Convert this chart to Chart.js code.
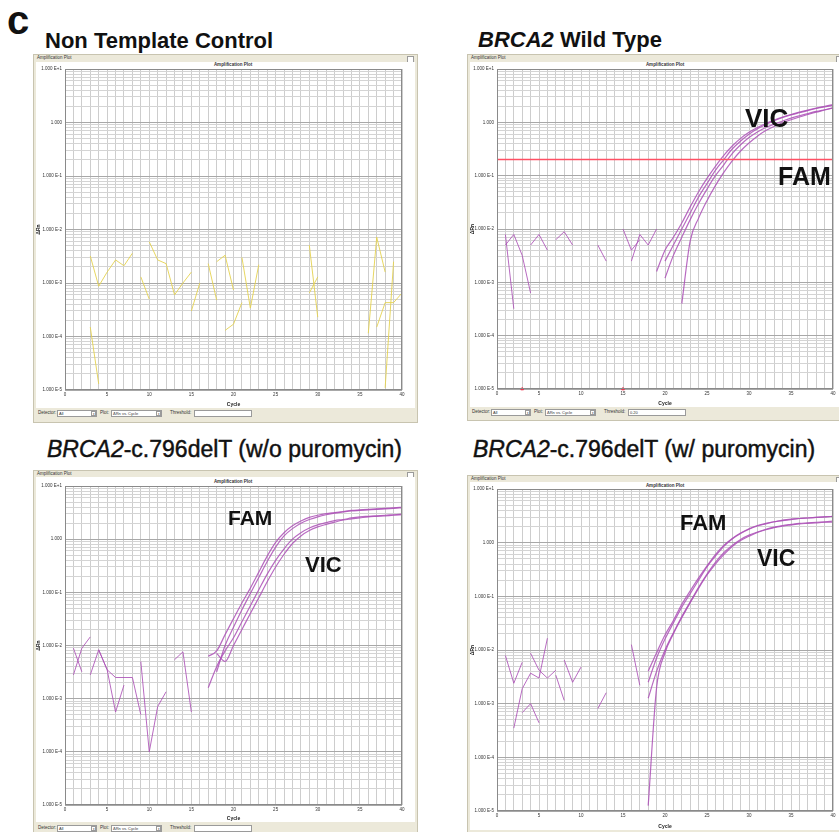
<!DOCTYPE html>
<html><head><meta charset="utf-8">
<script src="https://cdn.jsdelivr.net/npm/chart.js@4"></script>
<style>
html,body{margin:0;padding:0;background:#fff;}
#root{position:relative;width:839px;height:832px;overflow:hidden;background:#fff;font-family:'Liberation Sans',Arial,sans-serif;}
.abs{position:absolute;white-space:nowrap;line-height:1;color:#111;}
.win{position:absolute;background:#ECE9DA;border:1px solid #C8C4B0;box-sizing:border-box;}
.white{position:absolute;background:#fff;}
canvas{position:absolute;}
.tiny{position:absolute;font-size:4.5px;line-height:1;color:#333;white-space:nowrap;}
.box{position:absolute;background:#fff;border:1px solid #9a9a9a;box-sizing:border-box;height:7px;font-size:4px;line-height:5px;padding-left:1px;color:#333;}
.lbl{position:absolute;white-space:nowrap;line-height:1;font-weight:bold;color:#111;}
</style></head>
<body>
<div id="root">
  <div class="abs" style="left:7px;top:0px;font-size:40px;font-weight:bold;">c</div>
  <div class="abs" style="left:45px;top:30px;font-size:22px;font-weight:bold;">Non Template Control</div>
  <div class="abs" style="left:478px;top:29px;font-size:22px;font-weight:bold;"><i>BRCA2</i> Wild Type</div>
  <div class="abs" style="left:47px;top:438px;font-size:23px;-webkit-text-stroke:0.45px #111;"><i>BRCA2</i>-c.796delT (w/o puromycin)</div>
  <div class="abs" style="left:473px;top:438px;font-size:23px;-webkit-text-stroke:0.45px #111;"><i>BRCA2</i>-c.796delT (w/ puromycin)</div>
</div>
<script>
// ---------- axis definitions ----------
const cycleTicks = [0,1,2,3,4,5,6,7,8,9,10,11,12,13,14,15,16,17,18,19,20,21,22,23,24,25,26,27,28,29,30,31,32,33,34,35,36,37,38,39,40];
const cycleLabels = [0,5,10,15,20,25,30,35,40];
const decades = [1e-5,1e-4,1e-3,1e-2,1e-1,1,10];
const decadeLabels = ['1.000 E-5','1.000 E-4','1.000 E-3','1.000 E-2','1.000 E-1','1.000','1.000 E+1'];
const minorSteps = [2,3,4,5,6,7,8,9];

// ---------- Non Template Control (yellow traces, start cycle + dRn values) ----------
const ntcStarts = [3, 9, 10, 15, 17, 18, 19, 21, 29, 29, 36, 37, 38, 3];
const ntcA = [3.2e-3, 8.7e-4, 1.6e-3, 2.7e-3, 2.1e-3, 3.6e-3];
const ntcB = [1.3e-3, 5.0e-4];
const ntcC = [5.9e-3, 2.7e-3, 2.3e-3, 6.0e-4, 1.0e-3, 1.6e-3];
const ntcD = [3.0e-4, 1.0e-3];
const ntcE = [2.3e-3, 4.8e-4];
const ntcF = [2.5e-3, 3.3e-3, 7.4e-4];
const ntcG = [1.3e-4, 1.7e-4, 4.3e-4];
const ntcH = [3.0e-3, 3.4e-4, 2.2e-3];
const ntcI = [5.1e-3, 2.3e-4];
const ntcJ = [6.5e-4, 1.3e-3];
const ntcK = [1.15e-4, 7.2e-3, 1.6e-3];
const ntcL = [1.5e-4, 4.3e-4, 4.3e-4, 6.5e-4];
const ntcM = [1.1e-5, 2.5e-3];
const ntcN = [1.5e-4, 1.3e-5];

// ---------- BRCA2 Wild Type ----------
const wtNoiseStarts = [1, 1, 4, 7, 12, 15, 16];
const wtNoiseA = [7.9e-3, 3.2e-4];
const wtNoiseB = [5.0e-3, 7.9e-3, 3.2e-3, 6.3e-4];
const wtNoiseC = [5.0e-3, 7.9e-3, 4.0e-3];
const wtNoiseD = [6.3e-3, 8.9e-3, 5.0e-3];
const wtNoiseE = [5.0e-3, 2.5e-3];
const wtNoiseF = [1.0e-2, 4.0e-3, 6.3e-3];
const wtNoiseG = [2.5e-3, 7.9e-3, 5.0e-3, 1.0e-2];
const wtCurveStarts = [19, 20, 20, 22];
const wtVic1 = [1.6e-3,4.0e-3,7.0e-3,1.3e-2,2.6e-2,5.0e-2,8.9e-2,0.15,0.24,0.36,0.5,0.65,0.8,0.95,1.1,1.25,1.4,1.55,1.7,1.85,2.0,2.15];
const wtVic2 = [2.5e-3,5.0e-3,1.0e-2,2.0e-2,4.0e-2,7.1e-2,0.126,0.2,0.316,0.447,0.6,0.76,0.91,1.07,1.23,1.38,1.51,1.66,1.82,1.95,2.09];
const wtFam1 = [1.2e-3,3.2e-3,7.0e-3,1.5e-2,3.0e-2,5.6e-2,0.1,0.16,0.26,0.38,0.52,0.66,0.8,0.93,1.06,1.2,1.33,1.46,1.6,1.72,1.85];
const wtFam2 = [4.0e-4,6.0e-3,1.6e-2,3.4e-2,6.5e-2,0.115,0.19,0.29,0.41,0.55,0.7,0.84,0.98,1.12,1.26,1.4,1.55,1.7,1.88];
const wtThreshold = [0.2, 0.2];
const wtMarkerCycles = [3, 15];

// ---------- c.796delT without puromycin ----------
const noPuroNoiseStarts = [1, 1, 3, 4, 9, 13];
const noPuroNoiseA = [8.9e-3, 3.2e-3];
const noPuroNoiseB = [2.8e-3, 8.9e-3, 1.45e-2];
const noPuroNoiseC = [2.8e-3, 8.3e-3, 3.5e-3, 5.6e-4, 1.8e-3];
const noPuroNoiseD = [8.3e-3, 3.5e-3, 2.5e-3, 2.5e-3, 2.5e-3, 5.0e-4];
const noPuroNoiseE = [5.0e-3, 1.0e-4, 7.1e-4, 1.35e-3];
const noPuroNoiseF = [5.4e-3, 7.6e-3, 5.6e-4];
const noPuroCurveStarts = [17, 18, 17, 18];
const noPuroFam1 = [6.3e-3,7.9e-3,1.6e-2,3.2e-2,6.3e-2,0.12,0.24,0.48,0.87,1.32,1.78,2.19,2.57,2.82,3.02,3.16,3.31,3.47,3.55,3.63,3.72,3.8,3.89,3.98];
const noPuroFam2 = [3.2e-3,1.0e-2,2.2e-2,4.7e-2,9.5e-2,0.19,0.38,0.71,1.15,1.58,2.0,2.34,2.63,2.88,3.09,3.24,3.39,3.47,3.55,3.63,3.72,3.8,3.89];
const noPuroVic1 = [1.6e-3,4.0e-3,7.9e-3,1.4e-2,2.8e-2,5.6e-2,0.112,0.22,0.4,0.66,1.0,1.32,1.62,1.86,2.04,2.24,2.34,2.51,2.63,2.69,2.75,2.82,2.88,2.95];
const noPuroVic2 = [7.1e-3,5.0e-3,1.0e-2,2.0e-2,4.0e-2,7.9e-2,0.158,0.3,0.52,0.83,1.15,1.45,1.7,1.9,2.09,2.29,2.4,2.51,2.63,2.69,2.75,2.82,2.88];

// ---------- c.796delT with puromycin ----------
const puroNoiseStarts = [1, 2, 4, 3, 7, 8, 12, 16];
const puroNoiseA = [7.9e-3, 2.4e-3, 5.9e-3];
const puroNoiseB = [3.5e-4, 1.9e-3, 3.7e-3, 3.0e-3, 1.66e-2];
const puroNoiseC = [8.7e-3, 4.2e-3, 3.0e-3, 4.2e-3];
const puroNoiseD = [6.8e-4, 1.0e-3, 4.4e-4];
const puroNoiseE = [3.4e-3, 1.15e-3];
const puroNoiseF = [6.5e-3, 2.5e-3, 4.8e-3];
const puroNoiseG = [8.1e-4, 1.6e-3];
const puroNoiseH = [1.26e-2, 2.2e-3];
const puroCurveStarts = [18, 18, 18, 18];
const puroFam1 = [2.5e-3,7.1e-3,1.6e-2,3.2e-2,6.3e-2,0.112,0.2,0.355,0.56,0.85,1.17,1.48,1.78,2.04,2.24,2.45,2.57,2.69,2.82,2.88,2.95,3.02,3.09];
const puroFam2 = [4.0e-3,8.9e-3,1.9e-2,3.55e-2,7.1e-2,0.126,0.22,0.37,0.6,0.89,1.2,1.51,1.82,2.09,2.29,2.45,2.63,2.75,2.82,2.88,2.95,3.02,3.09];
const puroVic1 = [1.26e-5,2.0e-3,8.9e-3,2.0e-2,4.0e-2,7.6e-2,0.141,0.25,0.4,0.6,0.85,1.1,1.32,1.55,1.74,1.91,2.04,2.14,2.24,2.29,2.34,2.4,2.4];
const puroVic2 = [1.26e-3,4.0e-3,1.0e-2,2.1e-2,4.2e-2,7.9e-2,0.148,0.26,0.43,0.65,0.89,1.15,1.38,1.58,1.78,1.95,2.09,2.19,2.29,2.34,2.4,2.45,2.51];

// ---------- drawing ----------
const YELLOW = 'rgba(228,210,80,0.9)';
const PURPLE = 'rgba(172,80,182,0.85)';
const FONT = "'Liberation Sans', Arial, sans-serif";
const root = document.getElementById('root');

const yGrid = [];
decades.forEach((d, i) => { yGrid.push(d); if (i < decades.length - 1) minorSteps.forEach(m => yGrid.push(m * d)); });
function isDecade(v) { const l = Math.log10(v); return Math.abs(l - Math.round(l)) < 1e-6; }
function decadeText(v) { const i = decades.findIndex(d => Math.abs(Math.log10(d) - Math.log10(v)) < 1e-6); return i >= 0 ? decadeLabels[i] : ''; }

function run(start, vals, color, smooth) {
  return { data: vals.map((v, i) => ({ x: start + i, y: v })), borderColor: color, borderWidth: smooth ? 1.2 : 1,
    pointRadius: 0, fill: false, tension: smooth ? 0.35 : 0, cubicInterpolationMode: smooth ? 'monotone' : 'default' };
}

function el(cls, style, text) { const d = document.createElement('div'); d.className = cls; d.setAttribute('style', style); if (text !== undefined) d.textContent = text; root.appendChild(d); return d; }

function makeWindow(w) {
  el('win', `left:${w.wl}px;top:${w.wt}px;width:${w.ww}px;height:${w.wh}px;`);
  el('tiny', `left:${w.wl + 4}px;top:${w.wt + 2}px;`, 'Amplification Plot');
  el('box', `left:${w.wl + w.ww - 11}px;top:${w.wt + 2}px;width:7px;height:7px;`);
  el('white', `left:${w.cl}px;top:${w.ct}px;width:${w.cw}px;height:${w.ch}px;`);
  el('tiny', `left:${w.titleX - 20}px;top:${w.titleY}px;width:40px;text-align:center;font-weight:bold;`, 'Amplification Plot');
  const y = w.ctrlY, x = w.wl;
  el('tiny', `left:${x + 5}px;top:${y + 1}px;`, 'Detector:');
  el('box', `left:${x + 24}px;top:${y}px;width:40px;`, 'All');
  el('box', `left:${x + 58}px;top:${y + 1}px;width:5px;height:5px;font-size:3px;line-height:4px;`, '▾');
  el('tiny', `left:${x + 67}px;top:${y + 1}px;`, 'Plot:');
  el('box', `left:${x + 78}px;top:${y}px;width:51px;`, 'ΔRn vs. Cycle');
  el('box', `left:${x + 123}px;top:${y + 1}px;width:5px;height:5px;font-size:3px;line-height:4px;`, '▾');
  el('tiny', `left:${x + 137}px;top:${y + 1}px;`, 'Threshold:');
  el('box', `left:${x + 161}px;top:${y}px;width:58px;`, w.threshold);
  const c = document.createElement('canvas');
  c.width = w.cw; c.height = w.ch;
  c.style.left = w.cl + 'px'; c.style.top = w.ct + 'px';
  root.appendChild(c);
  return c;
}

const framePlugin = { id: 'frame', afterDraw(chart) {
  const a = chart.chartArea, ctx = chart.ctx; ctx.save(); ctx.strokeStyle = '#8a8a8a'; ctx.lineWidth = 1;
  ctx.strokeRect(Math.round(a.left) + 0.5, Math.round(a.top) + 0.5, Math.round(a.right - a.left) - 1, Math.round(a.bottom - a.top) - 1);
  ctx.restore(); } };

function makeChart(canvas, p, datasets) {
  return new Chart(canvas, {
    type: 'line',
    data: { datasets },
    plugins: [framePlugin],
    options: {
      responsive: false, animation: false, devicePixelRatio: 1,
      layout: { padding: { left: 0, right: p.padR, top: p.padT, bottom: 0 } },
      plugins: { legend: { display: false }, tooltip: { enabled: false }, title: { display: false } },
      scales: {
        x: { type: 'linear', min: 0, max: 40,
          afterBuildTicks: s => { s.ticks = cycleTicks.map(v => ({ value: v })); },
          afterFit: s => { s.height = p.xh; },
          ticks: { autoSkip: false, maxRotation: 0, padding: 2, color: '#333', font: { size: 4.5, family: FONT },
            callback: v => cycleLabels.includes(v) ? String(v) : '' },
          grid: { color: '#cdcdcd', lineWidth: 1, drawTicks: false },
          border: { display: false },
          title: { display: true, text: 'Cycle', color: '#222', font: { size: 5, weight: 'bold', family: FONT }, padding: { top: 1, bottom: 0 } } },
        y: { type: 'logarithmic', min: 1e-5, max: 10,
          afterBuildTicks: s => { s.ticks = yGrid.map(v => ({ value: v })); },
          afterFit: s => { s.width = p.yw; },
          ticks: { autoSkip: false, padding: 3, color: '#333', font: { size: 4.5, family: FONT },
            callback: v => isDecade(v) ? decadeText(v) : '' },
          grid: { color: ctx => (ctx.tick && isDecade(ctx.tick.value)) ? '#a8a8a8' : '#d4d4d4', lineWidth: 1, drawTicks: false },
          border: { display: false },
          title: { display: true, text: 'ΔRn', color: '#222', font: { size: 5, weight: 'bold', family: FONT }, padding: 0 } }
      }
    }
  });
}

// Panel 1: Non Template Control
const c1 = makeWindow({ wl: 33, wt: 54, ww: 385, wh: 369, cl: 36, ct: 62, cw: 379, ch: 346, titleX: 233, titleY: 63, ctrlY: 410, threshold: '' });
const ntcRuns = [ntcA, ntcB, ntcC, ntcD, ntcE, ntcF, ntcG, ntcH, ntcI, ntcJ, ntcK, ntcL, ntcM, ntcN];
makeChart(c1, { yw: 29, padR: 13, padT: 7, xh: 18 }, ntcRuns.map((r, i) => run(ntcStarts[i], r, YELLOW, false)));

// Panel 2: BRCA2 Wild Type
const c2 = makeWindow({ wl: 467, wt: 54, ww: 380, wh: 367, cl: 470, ct: 62, cw: 369, ch: 345, titleX: 665, titleY: 63, ctrlY: 409, threshold: '0.20' });
const wtNoise = [wtNoiseA, wtNoiseB, wtNoiseC, wtNoiseD, wtNoiseE, wtNoiseF, wtNoiseG];
const wtCurves = [wtVic1, wtVic2, wtFam1, wtFam2];
const ds2 = [{ data: [{ x: 0, y: wtThreshold[0] }, { x: 40, y: wtThreshold[1] }], borderColor: 'rgb(255,80,100)', borderWidth: 1.5, pointRadius: 0, order: -1 }];
wtNoise.forEach((r, i) => ds2.push(run(wtNoiseStarts[i], r, PURPLE, false)));
wtCurves.forEach((r, i) => ds2.push(run(wtCurveStarts[i], r, PURPLE, true)));
ds2.push({ data: wtMarkerCycles.map(c => ({ x: c, y: 1e-5 })), showLine: false, pointRadius: 1.6, pointStyle: 'triangle', backgroundColor: '#f0304a', borderColor: '#f0304a', clip: false });
makeChart(c2, { yw: 27, padR: 6, padT: 7, xh: 18 }, ds2);

// Panel 3: w/o puromycin
const c3 = makeWindow({ wl: 33, wt: 470, ww: 385, wh: 380, cl: 36, ct: 477, cw: 379, ch: 345, titleX: 233, titleY: 480, ctrlY: 825, threshold: '' });
const npNoise = [noPuroNoiseA, noPuroNoiseB, noPuroNoiseC, noPuroNoiseD, noPuroNoiseE, noPuroNoiseF];
const npCurves = [noPuroFam1, noPuroFam2, noPuroVic1, noPuroVic2];
makeChart(c3, { yw: 29, padR: 13, padT: 9, xh: 17 },
  npNoise.map((r, i) => run(noPuroNoiseStarts[i], r, PURPLE, false)).concat(npCurves.map((r, i) => run(noPuroCurveStarts[i], r, PURPLE, true))));

// Panel 4: w/ puromycin
const c4 = makeWindow({ wl: 467, wt: 475, ww: 380, wh: 380, cl: 470, ct: 482, cw: 369, ch: 348, titleX: 665, titleY: 484, ctrlY: 832, threshold: '' });
const pNoise = [puroNoiseA, puroNoiseB, puroNoiseC, puroNoiseD, puroNoiseE, puroNoiseF, puroNoiseG, puroNoiseH];
const pCurves = [puroFam1, puroFam2, puroVic1, puroVic2];
makeChart(c4, { yw: 27, padR: 6, padT: 7, xh: 19 },
  pNoise.map((r, i) => run(puroNoiseStarts[i], r, PURPLE, false)).concat(pCurves.map((r, i) => run(puroCurveStarts[i], r, PURPLE, true))));

// curve annotations
el('lbl', 'left:745px;top:105px;font-size:26px;', 'VIC');
el('lbl', 'left:778px;top:164px;font-size:25px;', 'FAM');
el('lbl', 'left:228px;top:507px;font-size:21px;', 'FAM');
el('lbl', 'left:305px;top:554px;font-size:22px;', 'VIC');
el('lbl', 'left:680px;top:512px;font-size:22px;', 'FAM');
el('lbl', 'left:757px;top:547px;font-size:23px;', 'VIC');
</script>
</body></html>
